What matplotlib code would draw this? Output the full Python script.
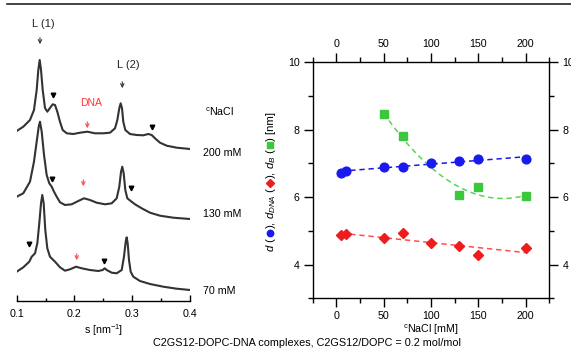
import matplotlib
matplotlib.use("Agg")
import matplotlib.pyplot as plt
from matplotlib.lines import Line2D
from matplotlib.ticker import FixedLocator
import numpy as np

plt.rcParams['font.family'] = ['Liberation Sans', 'DejaVu Sans']
plt.rcParams['mathtext.fontset'] = 'custom'
plt.rcParams['mathtext.rm'] = 'Liberation Sans'
plt.rcParams['mathtext.it'] = 'Liberation Sans:italic'

# ---- SAXS curves (left), intensity in arbitrary offset units ----
s_200 = [0.100, 0.1114, 0.1230, 0.1299, 0.1346, 0.1374, 0.1398, 0.1421, 0.1450, 0.1490,
         0.1530, 0.1576, 0.1623, 0.1663, 0.1703, 0.1749, 0.1796, 0.1866, 0.1980, 0.2096,
         0.2222, 0.2355, 0.2499, 0.2615, 0.2702, 0.2742, 0.2776, 0.2800, 0.2823, 0.2845,
         0.2880, 0.2961, 0.3077, 0.3192, 0.3278, 0.3337, 0.3394, 0.3481, 0.3597, 0.3770, 0.400]
I_200 = [170, 174.3, 181, 191, 211, 231, 241, 231, 211, 193,
         189.3, 193, 196.7, 196, 189.3, 179.3, 171, 167.7, 167, 168.3,
         169.3, 167.7, 167.7, 168.3, 172.7, 181, 192.7, 197.7, 192.7, 179.3,
         171, 167, 166, 165.7, 167, 166, 162.7, 158.3, 155.3, 153.3, 152]

s_130 = [0.100, 0.1114, 0.1230, 0.1299, 0.1346, 0.1381, 0.1403, 0.1433, 0.1473, 0.1519,
         0.1564, 0.1606, 0.1646, 0.1692, 0.1750, 0.1836, 0.1952, 0.2066, 0.2165, 0.2269,
         0.2385, 0.2529, 0.2645, 0.2731, 0.2776, 0.2806, 0.2828, 0.2852, 0.2880, 0.2915,
         0.2973, 0.3048, 0.3164, 0.3308, 0.3481, 0.3711, 0.400]
I_130 = [104.3, 107.7, 119.3, 139.3, 159.3, 174.3, 179.3, 169.3, 146, 126,
         117.7, 114.3, 109.3, 104.3, 98.7, 96, 96.7, 100, 102.7, 101,
         98.3, 96.7, 97.7, 102.7, 114.3, 129.3, 134.3, 127.7, 111, 102.7,
         100, 96.7, 92.7, 88.3, 85.3, 83.3, 82]

s_70 = [0.100, 0.1114, 0.1218, 0.1260, 0.1317, 0.1357, 0.1391, 0.1421, 0.1443, 0.1467,
        0.1495, 0.1530, 0.1576, 0.1663, 0.1750, 0.1836, 0.1923, 0.2027, 0.2125, 0.2269,
        0.2413, 0.2489, 0.2523, 0.2558, 0.2645, 0.2731, 0.2818, 0.2857, 0.2887, 0.2904,
        0.2921, 0.2944, 0.2973, 0.3018, 0.3134, 0.3308, 0.3538, 0.3770, 0.400]
I_70 = [29.3, 33.7, 39.3, 44.3, 47.7, 57.7, 77.7, 97.7, 106, 97.7,
        71, 52.7, 44.3, 39.3, 33.7, 30.3, 31.7, 34.3, 32.7, 31,
        30, 31, 32.7, 31, 28.3, 27.7, 31, 44.3, 59.3, 63.7,
        57.7, 41, 29.3, 24.3, 20, 17, 14.3, 12.3, 11]

# extra reflections (triangles) and DNA arrows
tri_s = [0.1634, 0.3337, 0.1606, 0.2973, 0.1213, 0.2511]
tri_I = [206, 173.7, 122, 113.3, 57, 40.3]
dna_s = [0.2222, 0.2153, 0.2039]
dna_I = [176, 118, 44]
conc_labels = ['200 mM', '130 mM', '70 mM']
s_ticks = [0.1, 0.2, 0.3, 0.4]
s_minor = [0.15, 0.25, 0.35]

# ---- lattice spacings (right) ----
c_d = [5, 10, 50, 70, 100, 130, 150, 200]
d = [6.73, 6.79, 6.89, 6.88, 7.02, 7.07, 7.13, 7.14]
c_dna = [5, 10, 50, 70, 100, 130, 150, 200]
d_dna = [4.88, 4.91, 4.80, 4.94, 4.63, 4.54, 4.28, 4.48]
c_b = [50, 70, 130, 150, 200]
d_b = [8.47, 7.82, 6.07, 6.29, 6.02]

W, H = 571, 354
fig = plt.figure(figsize=(W / 100, H / 100), dpi=100)
fs = 7.7
curve_col = '#333333'
blue = '#1a1aee'
red = '#ee1c1c'
green = '#3cc83c'

# top rule
fig.add_artist(Line2D([7 / W, 1], [1 - 4 / H, 1 - 4 / H], color='#111111', lw=1.1))

# left panel
ax1 = fig.add_axes([16.7 / W, 1 - 301 / H, (190 - 16.7) / W, (301 - 10) / H])
for s, I in [(s_200, I_200), (s_130, I_130), (s_70, I_70)]:
    ax1.plot(s, I, color=curve_col, lw=1.5, solid_joinstyle='round')
ax1.plot(tri_s, tri_I, 'v', color='black', ms=3.3, ls='none')
for s, I in zip(dna_s, dna_I):
    ax1.annotate('', xy=(s, I - 6), xytext=(s, I + 6),
                 arrowprops=dict(arrowstyle='->', color='#ff4a4a', lw=0.8, mutation_scale=6))
ax1.annotate('', xy=(0.1403, 254), xytext=(0.1403, 266),
             arrowprops=dict(arrowstyle='->', color='#333333', lw=0.8, mutation_scale=6))
ax1.annotate('', xy=(0.2828, 210), xytext=(0.2828, 222),
             arrowprops=dict(arrowstyle='->', color='#333333', lw=0.8, mutation_scale=6))
ax1.text(0.146, 277, 'L (1)', ha='center', va='center', fontsize=8, color='#222222')
ax1.text(0.2932, 236, 'L (2)', ha='center', va='center', fontsize=8, color='#222222')
ax1.text(0.2286, 198, 'DNA', ha='center', va='center', fontsize=7.5, color='#ff3333')
ax1.set_xlim(0.1, 0.4)
ax1.set_ylim(0, 291)
for sp in ['top', 'left', 'right']:
    ax1.spines[sp].set_visible(False)
ax1.spines['bottom'].set_linewidth(1.0)
ax1.set_yticks([])
ax1.xaxis.set_major_locator(FixedLocator(s_ticks))
ax1.xaxis.set_minor_locator(FixedLocator(s_minor))
ax1.set_xticklabels([f'{v:.1f}' for v in s_ticks])
ax1.tick_params(axis='x', which='major', direction='in', length=4.5, width=1.0, labelsize=fs, pad=6)
ax1.tick_params(axis='x', which='minor', direction='in', length=2.3, width=1.0)
ax1.set_xlabel(r's [nm$^{-1}$]', fontsize=fs, labelpad=2)

# concentration labels
fig.text(220 / W, 1 - 112 / H, r'$\mathregular{^c}$NaCl', ha='center', va='center', fontsize=fs)
for lab, yp in zip(conc_labels, [153, 214, 291]):
    fig.text(203 / W, 1 - yp / H, lab, ha='left', va='center', fontsize=fs)

# right panel
ax2 = fig.add_axes([312.7 / W, 1 - 298.3 / H, (549.3 - 312.7) / W, (298.3 - 62.3) / H])
xf = np.linspace(5, 200, 100)
ax2.plot(xf, np.polyval(np.polyfit(c_d, d, 1), xf), ls=(0, (3.5, 2.5)), color=blue, lw=1.1)
ax2.plot(xf, np.polyval(np.polyfit(c_dna, d_dna, 1), xf), ls=(0, (3.5, 2.5)), color='#ff4d4d', lw=1.1)
xg = np.linspace(50, 200, 100)
ax2.plot(xg, np.polyval(np.polyfit(c_b, d_b, 2), xg), ls=(0, (3.5, 2.5)), color='#5ad25a', lw=1.1)
ax2.plot(c_d, d, 'o', color=blue, ms=6.3, ls='none')
ax2.plot(c_dna, d_dna, 'D', color=red, ms=4.8, ls='none')
ax2.plot(c_b, d_b, 's', color=green, ms=6.2, ls='none')
ax2.set_xlim(-25, 225)
ax2.set_ylim(3, 10)
ax2.xaxis.set_major_locator(FixedLocator([0, 50, 100, 150, 200]))
ax2.xaxis.set_minor_locator(FixedLocator([-25, 25, 75, 125, 175, 225]))
ax2.yaxis.set_major_locator(FixedLocator([4, 6, 8, 10]))
ax2.yaxis.set_minor_locator(FixedLocator([3, 5, 7, 9]))
for sp in ax2.spines.values():
    sp.set_linewidth(1.0)
ax2.tick_params(which='both', direction='out', top=True, right=True,
                labeltop=True, labelright=True, labelsize=fs, width=1.0)
ax2.tick_params(which='major', length=6.5, pad=3)
ax2.tick_params(which='minor', length=3.5)
ax2.set_xlabel(r'$\mathregular{^c}$NaCl [mM]', fontsize=fs, labelpad=1)

# y label with coloured symbols: text pieces plus real markers in between
lab_fs = 8.2
pieces = [('text', r'$d$ (', None), ('mark', 'o', blue), ('text', r'), $d_{DNA}$ (', None),
          ('mark', 'D', red), ('text', r'), $d_B$ (', None), ('mark', 's', green),
          ('text', ') [nm]', None)]
mark_ms = {'o': 4.6, 'D': 3.6, 's': 4.4}
mark_w = 7.5  # px reserved for each symbol
renderer = fig.canvas.get_renderer()
widths = []
for kind, val, col in pieces:
    if kind == 'text':
        t = fig.text(0, 0, val, fontsize=lab_fs)
        widths.append(t.get_window_extent(renderer).width)
        t.remove()
    else:
        widths.append(mark_w)
base_x = 274
ypos = (H - 182) - sum(widths) / 2
for (kind, val, col), w in zip(pieces, widths):
    if kind == 'text':
        fig.text(base_x / W, ypos / H, val, fontsize=lab_fs, rotation=90,
                 rotation_mode='anchor', ha='left', va='baseline')
    else:
        fig.add_artist(Line2D([(base_x - 3.6) / W], [(ypos + w / 2) / H], marker=val,
                              ms=mark_ms[val], color=col, ls='none',
                              transform=fig.transFigure))
    ypos += w

fig.text(307 / W, 1 - 343 / H, 'C2GS12-DOPC-DNA complexes, C2GS12/DOPC = 0.2 mol/mol',
         ha='center', va='center', fontsize=7.8)

fig.savefig('out.png', dpi=100)
